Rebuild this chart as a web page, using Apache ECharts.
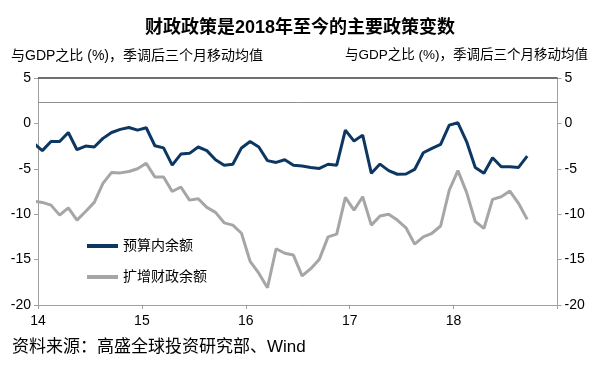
<!DOCTYPE html>
<html>
<head>
<meta charset="utf-8">
<script src="https://cdn.jsdelivr.net/npm/echarts@6/dist/echarts.min.js"></script>
<style>html,body{margin:0;padding:0;background:#fff}#c{width:600px;height:368px}</style>
</head>
<body>
<div id="c"></div>
<script>
// Months: first entry is Dec 2013 (clipped at the axis), then Jan 2014 .. Sep 2018
const months = ['2013-12',
 '2014-01','2014-02','2014-03','2014-04','2014-05','2014-06','2014-07','2014-08','2014-09','2014-10','2014-11','2014-12',
 '2015-01','2015-02','2015-03','2015-04','2015-05','2015-06','2015-07','2015-08','2015-09','2015-10','2015-11','2015-12',
 '2016-01','2016-02','2016-03','2016-04','2016-05','2016-06','2016-07','2016-08','2016-09','2016-10','2016-11','2016-12',
 '2017-01','2017-02','2017-03','2017-04','2017-05','2017-06','2017-07','2017-08','2017-09','2017-10','2017-11','2017-12',
 '2018-01','2018-02','2018-03','2018-04','2018-05','2018-06','2018-07','2018-08','2018-09'];
const budgetBalance = [-2.2,
 -3.0,-2.0,-2.0,-1.0,-2.9,-2.5,-2.6,-1.65,-1.0,-0.66,-0.45,-0.74,
 -0.48,-2.46,-2.7,-4.6,-3.38,-3.3,-2.6,-3.0,-4.0,-4.6,-4.5,-2.7,
 -2.0,-2.6,-4.1,-4.3,-4.0,-4.6,-4.7,-4.85,-4.96,-4.5,-4.6,-0.74,
 -1.95,-1.29,-5.5,-4.48,-5.2,-5.6,-5.57,-5.07,-3.23,-2.76,-2.3,-0.19,
 0.07,-2.0,-4.85,-5.5,-3.78,-4.77,-4.77,-4.85,-3.6];
const augmentedBalance = [-8.55,
 -8.7,-9.0,-10.1,-9.3,-10.65,-9.7,-8.7,-6.6,-5.4,-5.45,-5.3,-5.0,
 -4.4,-5.9,-5.9,-7.5,-7.0,-8.45,-8.3,-9.25,-9.8,-10.95,-11.2,-12.1,
 -15.2,-16.5,-18.1,-13.8,-14.3,-14.5,-16.8,-16.0,-14.95,-12.5,-12.2,-8.15,
 -9.55,-8.08,-11.2,-10.2,-10.0,-10.65,-11.5,-13.3,-12.5,-12.1,-11.3,-7.35,
 -5.2,-7.6,-10.8,-11.57,-8.37,-8.08,-7.45,-8.8,-10.57];
const yearLabels = ['14','15','16','17','18',''];
const refLineValue = 2.3;
const seriesNames = ['预算内余额','扩增财政余额'];

// month offset from Jan 2014 start, point at middle of each month
function xOf(m){ const [y,mo]=m.split('-').map(Number); return (y-2014)*12 + (mo-1) + 0.5; }
const s1 = months.map((m,i)=>[xOf(m), budgetBalance[i]]);
const s2 = months.map((m,i)=>[xOf(m), augmentedBalance[i]]);

const FF = "'Liberation Sans','Noto Sans CJK SC',sans-serif";
const chart = echarts.init(document.getElementById('c'));
const yAxisCommon = {
  type:'value', min:-20, max:5, interval:5,
  splitLine:{show:false},
  axisLine:{show:true, lineStyle:{color:'#a0a0a0', width:1}},
  axisTick:{show:true, length:4, lineStyle:{color:'#a0a0a0'}},
  axisLabel:{color:'#000', fontSize:14, fontFamily:FF, margin:7}
};
chart.setOption({
  animation:false,
  textStyle:{fontFamily:FF},
  title:{text:'财政政策是2018年至今的主要政策变数', left:'center', top:14,
    textStyle:{fontSize:18, fontWeight:'bold', color:'#000', fontFamily:FF}},
  graphic:[
    {type:'text', left:11, top:49, style:{text:'与GDP之比 (%)，季调后三个月移动均值', fontSize:14, fill:'#000', fontFamily:FF}},
    {type:'text', right:12, top:49, style:{text:'与GDP之比 (%)，季调后三个月移动均值', fontSize:13.5, fill:'#000', fontFamily:FF}},
    {type:'text', left:12, top:339, style:{text:'资料来源：高盛全球投资研究部、Wind', fontSize:17, fill:'#000', fontFamily:FF}}
  ],
  grid:{left:38, right:42.5, top:78, bottom:63},
  legend:{orient:'vertical', left:82, top:234, itemWidth:31, itemHeight:4, itemGap:17,
    icon:'rect', textStyle:{fontSize:14, color:'#000', fontFamily:FF},
    data:seriesNames},
  xAxis:{type:'value', min:0, max:60, interval:12,
    splitLine:{show:false},
    axisLine:{show:true, onZero:false, lineStyle:{color:'#a0a0a0'}},
    axisTick:{show:true, length:4, lineStyle:{color:'#a0a0a0'}},
    axisLabel:{color:'#000', fontSize:14, fontFamily:FF, margin:9,
      formatter:v=>yearLabels[Math.round(v/12)]}},
  yAxis:[
    Object.assign({}, yAxisCommon, {position:'left'}),
    Object.assign({}, yAxisCommon, {position:'right'})
  ],
  series:[
    {name:seriesNames[0], type:'line', data:s1, showSymbol:false, symbol:'none', z:3,
      lineStyle:{color:'#0c3762', width:3}, itemStyle:{color:'#0c3762'},
      markLine:{silent:true, symbol:'none', label:{show:false},
        data:[{yAxis:5, lineStyle:{color:'#404040', width:1.5, type:'solid'}},
              {yAxis:refLineValue, lineStyle:{color:'#909090', width:1, type:'solid'}}]}},
    {name:seriesNames[1], type:'line', data:s2, showSymbol:false, symbol:'none', z:2,
      lineStyle:{color:'#a6a6a6', width:3}, itemStyle:{color:'#a6a6a6'}}
  ]
});
</script>
</body>
</html>
